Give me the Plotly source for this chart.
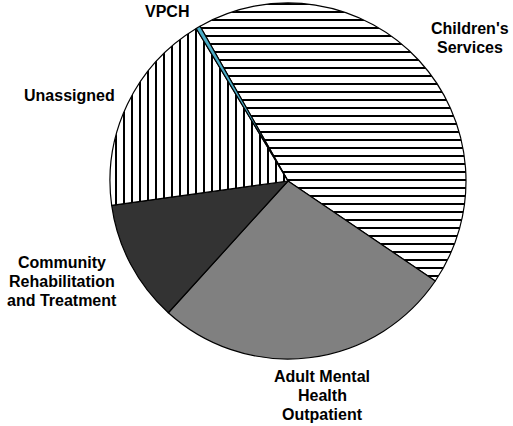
import plotly.graph_objects as go

# slices in clockwise order, starting at the VPCH edge
labels = ["Children's Services", "Adult Mental Health Outpatient",
          "Community Rehabilitation and Treatment", "Unassigned", "VPCH"]
values = [42.8, 27.3, 11.1, 18.6, 0.4]
label_text = ["Children's<br>Services", "Adult Mental<br>Health<br>Outpatient",
              "Community<br>Rehabilitation<br>and Treatment", "Unassigned", "VPCH"]

fill_colors = ["white", "#808080", "#333333", "white", "#4BACC6"]
pattern_shapes = ["-", "", "", "|", ""]

fig = go.Figure()
fig.add_trace(go.Pie(
    labels=labels,
    values=values,
    sort=False,
    direction="clockwise",
    rotation=330.4,
    textinfo="none",
    hoverinfo="label+percent",
    marker=dict(
        colors=fill_colors,
        line=dict(color="black", width=1.2),
        pattern=dict(shape=pattern_shapes, fgcolor="black", bgcolor="white",
                     size=8, solidity=0.25),
    ),
    domain=dict(x=[0.2144, 0.9084], y=[0.1573, 0.993]),
    showlegend=False,
))

# outside labels, one annotation per line to get the tighter line spacing
label_pos = [(470, 37.5), (322, 395), (62, 281.5), (69, 95), (167, 12)]
line_gap = 19
for txt, (px, py) in zip(label_text, label_pos):
    lines = txt.split("<br>")
    for i, line in enumerate(lines):
        ly = py + (i - (len(lines) - 1) / 2) * line_gap
        fig.add_annotation(
            x=px / 513, y=1 - ly / 426, xref="paper", yref="paper",
            text=line, showarrow=False, align="center",
            xanchor="center", yanchor="middle",
            font=dict(family="Arial, Liberation Sans", size=16, color="black", weight="bold"),
        )

fig.update_layout(
    width=513, height=426,
    margin=dict(l=0, r=0, t=0, b=0),
    paper_bgcolor="white",
    plot_bgcolor="white",
)

fig.write_html("out.html", config={"displayModeBar": False},
               post_script="document.body.style.margin='0';")
